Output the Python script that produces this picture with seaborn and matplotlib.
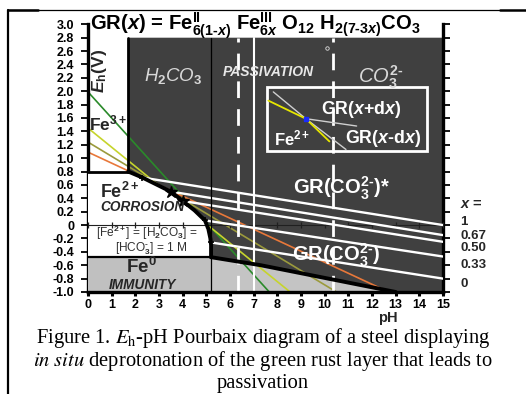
import matplotlib
matplotlib.use("Agg")
import matplotlib.pyplot as plt
import seaborn as sns
from matplotlib.lines import Line2D
from matplotlib.patches import Polygon, Rectangle

sns.set_theme(style="white")
plt.rcParams["font.family"] = ["Liberation Sans", "DejaVu Sans"]
plt.rcParams["mathtext.fontset"] = "custom"
plt.rcParams["mathtext.rm"] = "Liberation Sans:bold"
plt.rcParams["mathtext.bf"] = "Liberation Sans:bold"
plt.rcParams["mathtext.it"] = "Liberation Sans:italic"
plt.rcParams["mathtext.bfit"] = "Liberation Sans:italic:bold"
plt.rcParams["mathtext.default"] = "rm"

# ---- data -------------------------------------------------------------
ph_ticks = [0, 1, 2, 3, 4, 5, 6, 7, 8, 9, 10, 11, 12, 13, 14, 15]
eh_ticks = [-1.0, -0.8, -0.6, -0.4, -0.2, 0.0, 0.2, 0.4, 0.6, 0.8, 1.0,
            1.2, 1.4, 1.6, 1.8, 2.0, 2.2, 2.4, 2.6, 2.8, 3.0]
eh_tick_labels = ["-1.0", "-0.8", "-0.6", "-0.4", "-0.2", "0", "0.2", "0.4",
                  "0.6", "0.8", "1.0", "1.2", "1.4", "1.6", "1.8", "2.0",
                  "2.2", "2.4", "2.6", "2.8", "3.0"]

# Fe3+ / Fe2+ domain limits
fe3_eh_floor = 0.8
fe3_ph_limit = 1.7
eh_top_domain = 2.8

# Fe2+ / green rust boundary (corrosion limit)
fe2_boundary_ph = [1.7, 2.3, 3.5, 4.0, 4.5, 4.94, 5.08, 5.17, 5.2, 5.2]
fe2_boundary_eh = [0.8, 0.71, 0.5, 0.36, 0.22, 0.07, -0.05, -0.2, -0.3, -0.48]

# Fe0 (immunity) upper limit
fe0_left_ph = [0.0, 5.2]
fe0_left_eh = [-0.48, -0.48]
fe0_right_ph = [5.2, 7.3, 13.0]
fe0_right_eh = [-0.48, -0.6, -1.0]

# H2CO3 / HCO3- / CO3 2- and passivation limits
h2co3_ph = 5.2
passivation_ph = [6.35, 10.35]
neutral_ph = 7.0

# GR(x) equilibrium lines, one per Fe(III) fraction x
gr_x_labels = ["1", "0.67", "0.50", "0.33", "0"]
gr_start_ph = [2.3, 3.5, 4.0, 4.94, 5.2]
gr_start_eh = [0.71, 0.5, 0.36, 0.07, -0.26]
gr_end_ph = [15.0, 15.0, 15.0, 15.0, 15.0]
gr_end_eh = [0.0, -0.15, -0.25, -0.47, -0.80]
gr_star_ph = [3.5, 4.0]
gr_star_eh = [0.5, 0.36]
gr_node_ph = [2.3, 4.94, 5.2]
gr_node_eh = [0.71, 0.07, -0.26]

# Fe2+/Fe3+ related lines (value at pH 0 and pH where Eh = -1.0 V)
ref_eh_at_ph0 = [1.99, 1.45, 1.24, 1.09]
ref_ph_at_eh_min = [7.66, 8.54, 10.5, 12.7]
ref_colors = ["#2a8a2a", "#c6d42c", "#9b9a3c", "#e8783a"]

# detail box: deprotonation node
inset_box = [7.55, 1.10, 14.31, 2.07]
inset_steep_ph = [7.83, 9.2, 10.9]
inset_steep_eh = [1.99, 1.59, 1.13]
inset_yellow_ph = [7.62, 9.2, 10.2]
inset_yellow_eh = [1.86, 1.59, 1.25]
inset_flat_ph = [9.2, 11.35]
inset_flat_eh = [1.59, 1.48]
inset_node = (9.2, 1.59)

# ---- figure -----------------------------------------------------------
fig = plt.figure(figsize=(5.26, 3.94), dpi=100)
fig.patch.set_facecolor("white")
ax = fig.add_axes([0.1673, 0.2589, 0.8422 - 0.1673, 0.9383 - 0.2589])
ax.set_facecolor("white")
ax.set_xlim(0, 15)
ax.set_ylim(-1.0, 3.0)

dark = "#404040"
light_grey = "#c4c4c4"

# green-rust domain (dark)
dark_poly = ([(fe3_ph_limit, eh_top_domain), (15, eh_top_domain), (15, -1.0)]
             + list(zip(fe0_right_ph[::-1], fe0_right_eh[::-1]))
             + list(zip(fe2_boundary_ph[::-1], fe2_boundary_eh[::-1])))
ax.add_patch(Polygon(dark_poly, closed=True, facecolor=dark, edgecolor="none", zorder=1))
# immunity under the green-rust domain
ax.add_patch(Polygon(list(zip(fe0_right_ph, fe0_right_eh)) + [(h2co3_ph, -1.0)],
                     closed=True, facecolor=light_grey, edgecolor="none", zorder=1.1))

# Fe2+/Fe3+ reference lines
for e0, p1, c in zip(ref_eh_at_ph0, ref_ph_at_eh_min, ref_colors):
    sns.lineplot(x=[0, p1], y=[e0, -1.0], ax=ax, color=c, lw=1.2,
                 sort=False, estimator=None, zorder=2)

# Fe2+ corrosion domain (white) and Fe0 immunity (grey), over the lines
fe2_poly = ([(0, fe3_eh_floor)] + list(zip(fe2_boundary_ph, fe2_boundary_eh))
            + [(0, fe0_left_eh[0])])
ax.add_patch(Polygon(fe2_poly, closed=True, facecolor="white", edgecolor="none", zorder=3))
ax.add_patch(Rectangle((0, -1.0), h2co3_ph, fe0_left_eh[0] + 1.0,
                       facecolor="#c0c0c0", edgecolor="none", zorder=3))

# Eh = 0 inner reference axis with ticks
ax.axhline(0, color="#202020", lw=0.8, zorder=3.2)
ax.plot(ph_ticks, [0] * len(ph_ticks), ls="none", marker="|", ms=4,
        mew=0.9, color="#202020", zorder=3.2)

# GR(x) lines
for sp, se, ep, ee in zip(gr_start_ph, gr_start_eh, gr_end_ph, gr_end_eh):
    sns.lineplot(x=[sp, ep], y=[se, ee], ax=ax, color="white", lw=1.7,
                 sort=False, estimator=None, zorder=3.3)

# vertical limits
ax.plot([h2co3_ph, h2co3_ph], [-1.0, eh_top_domain], color="black", lw=0.9, zorder=3.35)
for p in passivation_ph:
    ax.plot([p, p], [-1.0, eh_top_domain], color="white", lw=2.0,
            dashes=(6, 4), zorder=3.4)
ax.plot([neutral_ph, neutral_ph], [-1.0, eh_top_domain], color="white", lw=1.5, zorder=3.4)

# domain boundaries
ax.plot([0, fe3_ph_limit], [fe3_eh_floor, fe3_eh_floor], color="black", lw=2.0, zorder=4)
ax.plot([fe3_ph_limit, fe3_ph_limit], [fe3_eh_floor, eh_top_domain], color="black", lw=2.0, zorder=4)
ax.plot(fe2_boundary_ph, fe2_boundary_eh, color="black", lw=2.8, zorder=4,
        solid_joinstyle="round")
ax.plot(fe0_left_ph, fe0_left_eh, color="black", lw=1.6, zorder=4)
ax.plot(fe0_right_ph, fe0_right_eh, color="black", lw=2.8, zorder=4)

# equilibrium nodes
ax.plot(gr_star_ph, gr_star_eh, ls="none", marker="*", ms=9, color="black", zorder=4.5)
ax.plot(gr_node_ph, gr_node_eh, ls="none", marker="+", ms=4, mew=1.2, color="black", zorder=4.5)
ax.plot([10.1], [2.64], ls="none", marker="o", ms=2.5, mfc="none", mec="#dddddd", mew=0.6, zorder=4.5)

# detail box
ax.add_patch(Rectangle((inset_box[0], inset_box[1]), inset_box[2] - inset_box[0],
                       inset_box[3] - inset_box[1], fill=False, edgecolor="white",
                       lw=2.0, zorder=4.6))
ax.plot(inset_steep_ph, inset_steep_eh, color="#cfcfcf", lw=1.0, zorder=4.7)
ax.plot(inset_flat_ph, inset_flat_eh, color="#cfcfcf", lw=1.0, zorder=4.7)
ax.plot(inset_yellow_ph, inset_yellow_eh, color="#e6e600", lw=1.3, zorder=4.8)
ax.plot([inset_node[0]], [inset_node[1]], ls="none", marker="s", ms=3.5,
        color="#1a2cff", zorder=4.9)

# ---- labels -----------------------------------------------------------
tk = dict(zorder=6)
ax.text(0.08, 2.975,
        r"GR($\mathbfit{x}$) = Fe$^{II}_{6(1\text{-}\mathbfit{x})}$ Fe$^{III}_{6\mathbfit{x}}$ "
        r"O$_{12}$ H$_{2(7\text{-}3\mathbfit{x})}$CO$_3$",
        fontsize=14.6, fontweight="bold", color="black", ha="left", va="center",
        clip_on=False, **tk)
ax.text(0.5, 2.3, r"$\mathbfit{E}_{h}$(V)", rotation=90, fontsize=12.5,
        fontweight="bold", ha="center", va="center", **tk)
ax.text(3.6, 2.23, r"$\mathit{H_2CO_3}$", fontsize=13.5, color="#d8d8d8",
        ha="center", va="center", **tk)
ax.text(7.6, 2.29, "PASSIVATION", fontsize=10, fontweight="bold",
        fontstyle="italic", color="#e8e8e8", ha="center", va="center", **tk)
ax.text(12.35, 2.21, r"$\mathit{CO_3^{2\text{-}}}$", fontsize=14.5, color="#d8d8d8",
        ha="center", va="center", **tk)
ax.text(0.05, 1.52, r"Fe$^{3+}$", fontsize=12.5, fontweight="bold", ha="left",
        va="center", **tk)
ax.text(0.5, 0.5, r"Fe$^{2+}$", fontsize=13, fontweight="bold", ha="left",
        va="center", **tk)
ax.text(2.3, 0.27, "CORROSION", fontsize=9.8, fontweight="bold",
        fontstyle="italic", ha="center", va="center", **tk)
ax.text(2.5, -0.11, r"[Fe$^{2+}$] = [H$_2$CO$_3$] =", fontsize=8.6,
        color="#303030", ha="center", va="center", **tk)
ax.text(2.68, -0.35, r"[HCO$_3^{\text{-}}$] = 1 M", fontsize=8.6,
        color="#303030", ha="center", va="center", **tk)
ax.text(2.27, -0.63, r"Fe$^0$", fontsize=13.5, fontweight="bold", ha="center",
        va="center", **tk)
ax.text(2.3, -0.89, "IMMUNITY", fontsize=9.8, fontweight="bold",
        fontstyle="italic", ha="center", va="center", **tk)
ax.text(10.7, 0.55, r"GR(CO$_3^{2\text{-}}$)*", fontsize=14.5, fontweight="bold",
        color="white", ha="center", va="center", **tk)
ax.text(10.5, -0.45, r"GR(CO$_3^{2\text{-}}$)", fontsize=14.5, fontweight="bold",
        color="white", ha="center", va="center", **tk)
ax.text(11.55, 1.72, r"GR($\mathbfit{x}$+d$\mathbfit{x}$)", fontsize=12.8,
        fontweight="bold", color="white", ha="center", va="center", **tk)
ax.text(7.85, 1.30, r"Fe$^{2+}$", fontsize=12, fontweight="bold",
        color="white", ha="left", va="center", **tk)
ax.text(12.45, 1.30, r"GR($\mathbfit{x}$-d$\mathbfit{x}$)", fontsize=12.8,
        fontweight="bold", color="white", ha="center", va="center", **tk)

# composition labels at the right edge
ax.text(15.72, 0.31, r"$\mathbfit{x}$ =", fontsize=10.5, fontweight="bold",
        ha="left", va="center", clip_on=False, **tk)
for lab, e in zip(gr_x_labels, [0.04, -0.16, -0.35, -0.60, -0.88]):
    ax.text(15.72, e, lab, fontsize=9.5, fontweight="bold", ha="left",
            va="center", clip_on=False, **tk)

ax.text(12.65, -1.39, "pH", fontsize=10.5, fontweight="bold", ha="center",
        va="center", clip_on=False, **tk)

# ---- axes styling -----------------------------------------------------
ax.set_xticks(ph_ticks)
ax.set_xticklabels([str(v) for v in ph_ticks])
ax.set_yticks(eh_ticks)
ax.set_yticklabels(eh_tick_labels)
for lab in ax.get_xticklabels() + ax.get_yticklabels():
    lab.set_fontweight("bold")
    lab.set_fontsize(9)
ax.tick_params(axis="y", which="both", left=True, right=True, direction="out",
               length=5, width=1.3, pad=5, colors="black")
ax.tick_params(axis="x", bottom=True, direction="out", length=3.2, width=2.2,
               pad=2.2, colors="black")
for side in ["left", "right", "bottom"]:
    ax.spines[side].set_visible(True)
    ax.spines[side].set_color("black")
    ax.spines[side].set_linewidth(2.4)
ax.spines["top"].set_visible(False)
ax.spines["bottom"].set_zorder(7)
ax.grid(False)

# ---- caption and page frame ------------------------------------------
cap = dict(ha="center", va="center", fontsize=14.8, family="Liberation Serif",
           math_fontfamily="stix", color="black")
fig.text(0.5, 0.1410, r"Figure 1. $\mathit{E}_{\mathrm{h}}$-pH Pourbaix diagram of a steel displaying", **cap)
fig.text(0.5, 0.0850, r"$\mathit{in\ situ}$ deprotonation of the green rust layer that leads to", **cap)
fig.text(0.5, 0.0279, "passivation", **cap)

W, H = 526.0, 394.0
fig.add_artist(Line2D([8 / W, 8 / W], [0, 1 - 10 / H], color="black", lw=1.6))
fig.add_artist(Line2D([8 / W, 500 / W], [1 - 10 / H, 1 - 10 / H], color="black", lw=0.9))
fig.add_artist(Line2D([8 / W, 38 / W], [1 - 10 / H, 1 - 10 / H], color="black", lw=1.8))
fig.add_artist(Line2D([500 / W, 1.0], [1 - 9.5 / H, 1 - 9.5 / H], color="black", lw=1.8))

fig.savefig("out.png", dpi=100, facecolor="white")
